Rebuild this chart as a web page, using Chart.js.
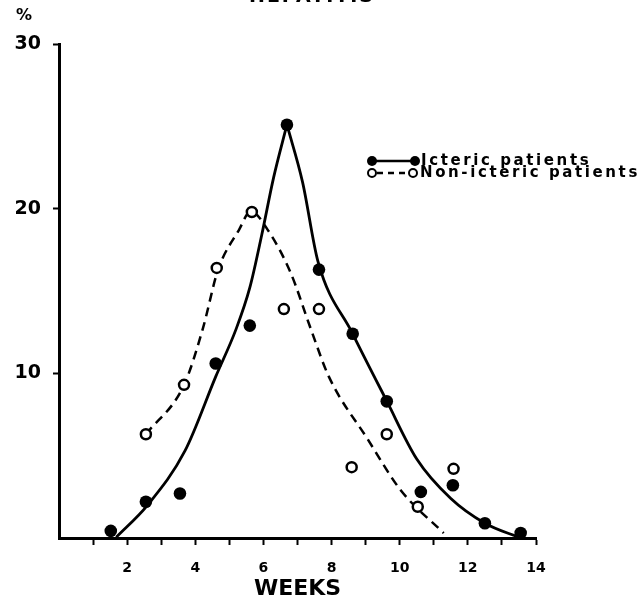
<!DOCTYPE html>
<html>
<head>
<meta charset="utf-8">
<script src="https://cdn.jsdelivr.net/npm/chart.js@4/dist/chart.umd.min.js"></script>
<style>
  html, body { margin: 0; padding: 0; background: #ffffff; }
  #wrap { width: 642px; height: 602px; position: relative; }
</style>
</head>
<body>
<div id="wrap"><canvas id="c" width="642" height="602"></canvas></div>
<script>
// ---- data ----
const icWeeks   = [1.52, 2.55, 3.55, 4.6, 5.6, 6.69, 7.63, 8.62, 9.62, 10.62, 11.56, 12.5, 13.55];
const icValues  = [0.43, 2.2, 2.7, 10.6, 12.9, 25.1, 16.3, 12.4, 8.3, 2.8, 3.2, 0.9, 0.3];
const nonWeeks  = [2.55, 3.67, 4.63, 5.66, 6.6, 7.63, 8.59, 9.62, 10.53, 11.58];
const nonValues = [6.3, 9.3, 16.4, 19.8, 13.9, 13.9, 4.3, 6.3, 1.9, 4.2];

// hand-drawn fitted curves
const icRiseWeeks  = [1.68, 2.6, 3.7, 4.6, 5.2, 5.6, 5.95, 6.3, 6.69];
const icRiseValues = [0.05, 2.0, 5.3, 9.8, 12.7, 15.2, 18.4, 21.9, 25.1];
const icFallWeeks  = [6.69, 7.15, 7.6, 8.62, 9.6, 10.5, 11.5, 12.5, 13.55];
const icFallValues = [25.1, 21.6, 16.8, 12.4, 8.4, 4.8, 2.4, 0.9, 0.0];
const nonCurveWeeks  = [2.55, 3.67, 4.22, 4.67, 5.28, 5.63, 6.13, 6.8, 7.39, 7.92, 9.06, 10.03, 11.29];
const nonCurveValues = [6.3, 9.3, 12.7, 16.3, 18.7, 19.85, 18.7, 16.1, 12.7, 9.8, 6.0, 2.9, 0.3];

const xTickLabels = [2, 4, 6, 8, 10, 12, 14];
const yTickLabels = [10, 20, 30];
const seriesNames = ['Icteric patients', 'Non-icteric patients'];
const xTitle = 'WEEKS';
const yUnit = '%';
const topTitle = 'HEPATITIS';

const pts = (xs, ys) => xs.map((x, i) => ({ x: x, y: ys[i] }));
const FONT = '"DejaVu Sans", sans-serif';

const legendPlugin = {
  id: 'customLegend',
  afterDraw(chart) {
    const ctx = chart.ctx;
    ctx.save();
    ctx.fillStyle = '#000';
    ctx.strokeStyle = '#000';
    // top (cut) title
    ctx.font = 'bold 19px ' + FONT;
    ctx.textAlign = 'center';
    ctx.textBaseline = 'alphabetic';
    ctx.letterSpacing = '2px';
    ctx.fillText(topTitle, 312, 2);
    // y unit
    ctx.letterSpacing = '0px';
    ctx.font = 'bold 16px ' + FONT;
    ctx.textBaseline = 'middle';
    ctx.fillText(yUnit, 24, 16);

    // legend row 1
    ctx.lineWidth = 2.5;
    ctx.setLineDash([]);
    ctx.beginPath(); ctx.moveTo(372, 161); ctx.lineTo(415, 161); ctx.stroke();
    ctx.beginPath(); ctx.arc(372, 161, 5, 0, Math.PI * 2); ctx.fill();
    ctx.beginPath(); ctx.arc(415, 161, 5, 0, Math.PI * 2); ctx.fill();
    // legend row 2
    ctx.setLineDash([6, 5]);
    ctx.beginPath(); ctx.moveTo(377, 173); ctx.lineTo(409, 173); ctx.stroke();
    ctx.setLineDash([]);
    ctx.lineWidth = 2;
    ctx.fillStyle = '#fff';
    ctx.beginPath(); ctx.arc(372, 173, 4, 0, Math.PI * 2); ctx.fill(); ctx.stroke();
    ctx.beginPath(); ctx.arc(413, 173, 4, 0, Math.PI * 2); ctx.fill(); ctx.stroke();
    ctx.fillStyle = '#000';
    ctx.font = 'bold 15px ' + FONT;
    ctx.textAlign = 'left';
    ctx.letterSpacing = '2.6px';
    ctx.fillText(seriesNames[0], 421, 161);
    ctx.fillText(seriesNames[1], 420, 173);
    ctx.restore();
  }
};

const hideZero = (c) => (c.tick && c.tick.value === 0) ? 'rgba(0,0,0,0)' : '#000';

new Chart(document.getElementById('c'), {
  type: 'scatter',
  data: {
    datasets: [
      { label: seriesNames[0], data: pts(icWeeks, icValues), showLine: false,
        pointRadius: 6.3, pointHoverRadius: 6.3, pointBackgroundColor: '#000', pointBorderWidth: 0 },
      { label: seriesNames[1], data: pts(nonWeeks, nonValues), showLine: false,
        pointRadius: 5, pointHoverRadius: 5, pointBackgroundColor: '#fff', pointBorderColor: '#000', pointBorderWidth: 2.5 },
      { label: 'ic-rise', data: pts(icRiseWeeks, icRiseValues), showLine: true, pointRadius: 0,
        borderColor: '#000', borderWidth: 2.8, cubicInterpolationMode: 'monotone' },
      { label: 'ic-fall', data: pts(icFallWeeks, icFallValues), showLine: true, pointRadius: 0,
        borderColor: '#000', borderWidth: 2.8, cubicInterpolationMode: 'monotone' },
      { label: 'non-fit', data: pts(nonCurveWeeks, nonCurveValues), showLine: true, pointRadius: 0,
        borderColor: '#000', borderWidth: 2.5, borderDash: [9, 6], cubicInterpolationMode: 'monotone' }
    ]
  },
  options: {
    responsive: false,
    animation: false,
    devicePixelRatio: 1,
    layout: { padding: { left: 0, top: 44, right: 106, bottom: 0 } },
    plugins: { legend: { display: false }, tooltip: { enabled: false } },
    scales: {
      x: {
        type: 'linear', min: 0, max: 14,
        afterFit: (s) => { s.height = 64; },
        ticks: {
          stepSize: 1, autoSkip: false, maxRotation: 0, padding: 15,
          color: '#000', font: { family: FONT, size: 14, weight: 'bold' },
          callback: (v) => xTickLabels.includes(v) ? String(v) : ''
        },
        grid: { drawOnChartArea: false, drawTicks: true, tickLength: 7, tickWidth: 2, tickColor: hideZero },
        border: { display: true, color: '#000', width: 3 },
        title: { display: true, text: xTitle, color: '#000', padding: { top: 0, bottom: 0 },
                 font: { family: FONT, size: 22, weight: 'bold' } }
      },
      y: {
        type: 'linear', min: 0, max: 30,
        afterFit: (s) => { s.width = 59; },
        ticks: {
          stepSize: 10, padding: 12, color: '#000',
          font: { family: FONT, size: 19, weight: 'bold' },
          callback: (v) => yTickLabels.includes(v) ? String(v) : ''
        },
        grid: { drawOnChartArea: false, drawTicks: true, tickLength: 6, tickWidth: 2, tickColor: hideZero },
        border: { display: true, color: '#000', width: 3 }
      }
    }
  },
  plugins: [legendPlugin]
});
</script>
</body>
</html>
